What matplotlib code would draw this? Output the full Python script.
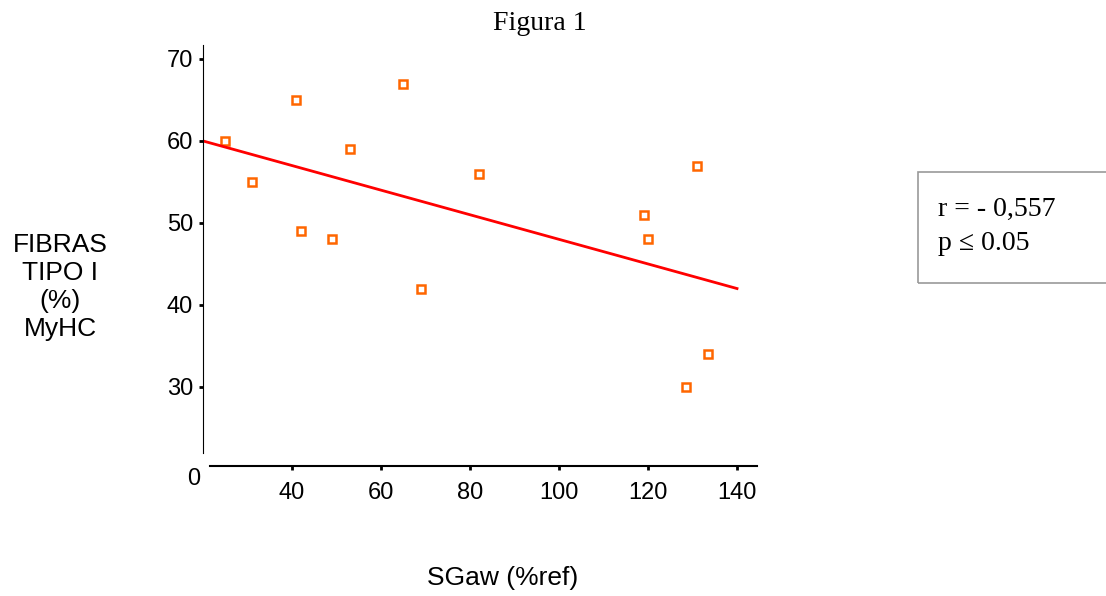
import matplotlib.pyplot as plt
from matplotlib.patches import Rectangle

# data
sgaw = [25, 31, 41, 42, 49, 53, 65, 69, 82, 119, 120, 128.5, 131, 133.5]
fibras = [60, 55, 65, 49, 48, 59, 67, 42, 56, 51, 48, 30, 57, 34]
fit_x = [20, 140]
fit_y = [60, 42]
xticks = [40, 60, 80, 100, 120, 140]
yticks = [30, 40, 50, 60, 70]

SANS = "Liberation Sans"
SERIF = "Liberation Serif"

fig = plt.figure(figsize=(11.06, 5.96), dpi=100)
ax = fig.add_axes([0.1835, 0.2173, 0.503, 0.7072])

ax.plot(sgaw, fibras, linestyle="none", marker="s", markersize=5.8,
        markerfacecolor="white", markeredgecolor="#ff6600", markeredgewidth=1.8)
ax.plot(fit_x, fit_y, color="red", linewidth=2.0)

ax.set_xlim(20, 145)
ax.set_ylim(20.3, 71.7)
ax.set_xticks(xticks)
ax.set_yticks(yticks)

ax.spines["top"].set_visible(False)
ax.spines["right"].set_visible(False)
ax.spines["left"].set_bounds(22, 71.7)
ax.spines["bottom"].set_bounds(21.6, 144.5)
ax.spines["bottom"].set_linewidth(1.5)
ax.tick_params(axis="y", direction="out", length=3, width=2, labelsize=17, pad=4)
ax.tick_params(axis="x", direction="out", length=3, width=2, labelsize=17, pad=8)

for lab in ax.get_xticklabels() + ax.get_yticklabels():
    lab.set_fontfamily(SANS)

ax.text(19.4, 18.8, "0", fontsize=17, family=SANS,
        ha="right", va="center", clip_on=False)

fig.text(60 / 1106, 1 - 287 / 596, "FIBRAS\nTIPO I\n(%)\nMyHC", fontsize=19,
         family=SANS, ha="center", va="center", linespacing=1.2)
fig.text(503 / 1106, 1 - 578 / 596, "SGaw (%ref)", fontsize=19,
         family=SANS, ha="center", va="center")
fig.text(540 / 1106, 1 - 23 / 596, "Figura 1", fontsize=20,
         family=SERIF, ha="center", va="center")

box = Rectangle((918 / 1106, 1 - 283 / 596), 200 / 1106, 111 / 596,
                transform=fig.transFigure, facecolor="none",
                edgecolor="#999999", linewidth=1.2, clip_on=False)
fig.add_artist(box)
fig.text(938 / 1106, 1 - 209 / 596, "r = - 0,557", fontsize=20,
         family=SERIF, ha="left", va="center")
fig.text(938 / 1106, 1 - 244 / 596, "p \u2264 0.05", fontsize=20,
         family=SERIF, ha="left", va="center")

fig.savefig("out.png", dpi=100)
